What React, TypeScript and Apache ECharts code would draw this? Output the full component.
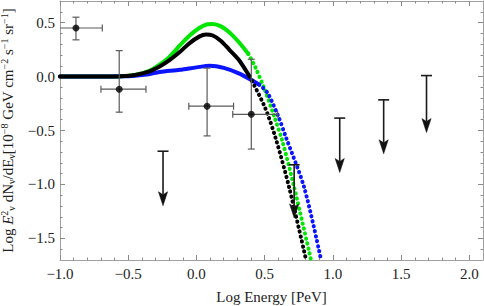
import React, { useEffect, useRef } from "react";
import * as echarts from "echarts";

// ---- Model curves (log energy, log flux) ----
const greenX = [-1.0, -0.7, -0.55, -0.45, -0.35, -0.27, -0.2, -0.12, -0.05, 0.02, 0.08, 0.12, 0.18, 0.24, 0.31, 0.38, 0.43, 0.5, 0.57, 0.63, 0.715, 0.84];
const greenY = [0, 0, 0.003, 0.015, 0.05, 0.11, 0.18, 0.29, 0.38, 0.45, 0.485, 0.488, 0.465, 0.41, 0.32, 0.21, 0.09, -0.12, -0.37, -0.6, -1.02, -1.7];
const blueX = [-1.0, -0.7, -0.55, -0.45, -0.35, -0.27, -0.12, 0.0, 0.1, 0.2, 0.31, 0.4, 0.46, 0.52, 0.6, 0.655, 0.79, 0.91];
const blueY = [0, 0, 0.002, 0.008, 0.022, 0.042, 0.062, 0.085, 0.1, 0.08, 0.03, -0.03, -0.075, -0.15, -0.37, -0.56, -1.03, -1.68];
const blackX = [-1.0, -0.7, -0.55, -0.45, -0.35, -0.27, -0.2, -0.12, -0.05, 0.02, 0.07, 0.12, 0.18, 0.24, 0.31, 0.39, 0.5, 0.58, 0.68, 0.8];
const blackY = [0, 0, 0.003, 0.015, 0.045, 0.093, 0.15, 0.23, 0.31, 0.37, 0.39, 0.38, 0.33, 0.25, 0.155, 0.0, -0.28, -0.57, -1.03, -1.68];

// ---- Measured points with error bars ----
const ptX = [-0.883, -0.566, 0.078, 0.402];
const ptY = [0.45, -0.117, -0.275, -0.35];
const ptXLo = [-1.01, -0.7, -0.056, 0.266];
const ptXHi = [-0.69, -0.37, 0.272, 0.595];
const ptYLo = [0.34, -0.33, -0.55, -0.672];
const ptYHi = [0.55, 0.24, 0.078, 0.16];

// ---- Upper limits ----
const ulX = [-0.245, 0.716, 1.05, 1.372, 1.686];
const ulTop = [-0.692, -0.818, -0.385, -0.216, 0.009];
const ulTip = [-1.197, -1.31, -0.889, -0.716, -0.519];

// ---- Axes ----
const xMin = -1.0;
const xMax = 2.1;
const yMin = -1.7;
const yMax = 0.7;
const xMajor = [-1.0, -0.5, 0.0, 0.5, 1.0, 1.5, 2.0];
const xMinor = [-0.9, -0.8, -0.7, -0.6, -0.4, -0.3, -0.2, -0.1, 0.1, 0.2, 0.3, 0.4, 0.6, 0.7, 0.8, 0.9, 1.1, 1.2, 1.3, 1.4, 1.6, 1.7, 1.8, 1.9];
const yMajor = [-1.5, -1.0, -0.5, 0.0, 0.5];
const yMinor = [-1.6, -1.4, -1.3, -1.2, -1.1, -0.9, -0.8, -0.7, -0.6, -0.4, -0.3, -0.2, -0.1, 0.1, 0.2, 0.3, 0.4, 0.6];

const xSplitGreen = 0.38;
const xSplitBlue = 0.46;
const xSplitBlack = 0.39;

const FONT = "Liberation Serif";
const FRAME = "#a0a0a0";
const TICK = "#8a8a8a";
const TEXT = "#222";

const fmt = (v: number) => (v < 0 ? "\u2212" : "") + Math.abs(v).toFixed(1);

function pairs(xs: number[], ys: number[], from: number, to: number) {
  const out: number[][] = [];
  for (let i = 0; i < xs.length; i++) {
    if (xs[i] >= from - 1e-9 && xs[i] <= to + 1e-9) out.push([xs[i], ys[i]]);
  }
  return out;
}

function curve(name: string, color: string, xs: number[], ys: number[], split: number, z: number) {
  const base = {
    type: "line" as const,
    xAxisIndex: 0,
    yAxisIndex: 0,
    showSymbol: false,
    smooth: 0.3,
    silent: true,
    clip: true,
    z,
  };
  return [
    {
      ...base,
      name: name + "-solid",
      data: pairs(xs, ys, -Infinity, split),
      lineStyle: { color, width: 4, cap: "round" as const, join: "round" as const },
    },
    {
      ...base,
      name: name + "-dots",
      data: pairs(xs, ys, split, Infinity),
      lineStyle: { color, width: 4, cap: "round" as const, type: [0.3, 4.8] },
    },
  ];
}

function xAxisDef(position: "top" | "bottom", major: boolean) {
  const isMain = position === "bottom" && major;
  return {
    type: "value",
    position,
    min: xMin,
    max: xMax,
    splitLine: { show: false },
    axisLine: { show: major, onZero: false, lineStyle: { color: FRAME, width: 1 } },
    axisTick: {
      show: true,
      inside: true,
      length: major ? 5 : 2.5,
      customValues: major ? xMajor : xMinor,
      lineStyle: { color: TICK, width: 1 },
    },
    axisLabel: isMain
      ? { show: true, customValues: xMajor, formatter: fmt, margin: 6, fontFamily: FONT, fontSize: 15, color: TEXT }
      : { show: false },
    name: isMain ? "Log Energy [PeV]" : "",
    nameLocation: "middle",
    nameGap: 29,
    nameTextStyle: { fontFamily: FONT, fontSize: 15, color: TEXT },
  };
}

const sup = { fontFamily: FONT, fontSize: 10, color: TEXT, verticalAlign: "top", lineHeight: 9 };
const sub = { fontFamily: FONT, fontSize: 10, color: TEXT, verticalAlign: "bottom", lineHeight: 9 };
const reg = { fontFamily: FONT, fontSize: 15, color: TEXT, lineHeight: 17 };
const ita = { ...reg, fontStyle: "italic" };

const yName =
  "{r|Log }{i|E}{sup|2}{sub|\u03bd}{r| dN}{sub|\u03bd}{r|/dE}{sub|\u03bd}{r|[10}{sup|\u22128}{r| GeV cm}{sup|\u22122}{r| s}{sup|\u22121}{r| sr}{sup|\u22121}{r|]}";

function yAxisDef(position: "left" | "right", major: boolean) {
  const isMain = position === "left" && major;
  return {
    type: "value",
    position,
    min: yMin,
    max: yMax,
    splitLine: { show: false },
    axisLine: { show: major, onZero: false, lineStyle: { color: FRAME, width: 1 } },
    axisTick: {
      show: true,
      inside: true,
      length: major ? 5 : 2.5,
      customValues: major ? yMajor : yMinor,
      lineStyle: { color: TICK, width: 1 },
    },
    axisLabel: isMain
      ? { show: true, customValues: yMajor, formatter: fmt, margin: 5, fontFamily: FONT, fontSize: 15, color: TEXT }
      : { show: false },
    name: isMain ? yName : "",
    nameLocation: "middle",
    nameRotate: 90,
    nameGap: 33,
    nameTextStyle: { rich: { r: reg, i: ita, sup, sub } },
  };
}

export default function App() {
  const ref = useRef<HTMLDivElement>(null);
  useEffect(() => {
    if (!ref.current) return;
    const chart = echarts.init(ref.current, undefined, { renderer: "svg" });

    const errData = ptX.map((x, i) => [x, ptY[i], ptXLo[i], ptXHi[i], ptYLo[i], ptYHi[i]]);
    const ulData = ulX.map((x, i) => [x, ulTop[i], ulTip[i]]);

    chart.setOption({
      animation: false,
      backgroundColor: "#fff",
      grid: { left: 60, right: 1, top: 1, bottom: 46, containLabel: false, outerBoundsMode: "none" },
      xAxis: [xAxisDef("bottom", true), xAxisDef("bottom", false), xAxisDef("top", true), xAxisDef("top", false)],
      yAxis: [yAxisDef("left", true), yAxisDef("left", false), yAxisDef("right", true), yAxisDef("right", false)],
      series: [
        ...curve("green", "#00e600", greenX, greenY, xSplitGreen, 2),
        ...curve("blue", "#0a14ff", blueX, blueY, xSplitBlue, 3),
        ...curve("black", "#000", blackX, blackY, xSplitBlack, 4),
        {
          type: "custom",
          name: "errors",
          xAxisIndex: 0,
          yAxisIndex: 0,
          clip: true,
          silent: true,
          z: 5,
          data: errData,
          encode: { x: [0, 2, 3], y: [1, 4, 5] },
          renderItem: (_p: any, api: any) => {
            const x = api.value(0);
            const y = api.value(1);
            const l = api.coord([api.value(2), y]);
            const r = api.coord([api.value(3), y]);
            const b = api.coord([x, api.value(4)]);
            const t = api.coord([x, api.value(5)]);
            const style = { stroke: "#5a5a5a", lineWidth: 1.2 };
            const c = 3.5;
            return {
              type: "group",
              children: [
                { type: "line", shape: { x1: l[0], y1: l[1], x2: r[0], y2: r[1] }, style },
                { type: "line", shape: { x1: l[0], y1: l[1] - c, x2: l[0], y2: l[1] + c }, style },
                { type: "line", shape: { x1: r[0], y1: r[1] - c, x2: r[0], y2: r[1] + c }, style },
                { type: "line", shape: { x1: b[0], y1: b[1], x2: t[0], y2: t[1] }, style },
                { type: "line", shape: { x1: b[0] - c, y1: b[1], x2: b[0] + c, y2: b[1] }, style },
                { type: "line", shape: { x1: t[0] - c, y1: t[1], x2: t[0] + c, y2: t[1] }, style },
              ],
            };
          },
        },
        {
          type: "scatter",
          name: "points",
          xAxisIndex: 0,
          yAxisIndex: 0,
          silent: true,
          z: 6,
          symbol: "circle",
          symbolSize: 7,
          itemStyle: { color: "#000" },
          data: ptX.map((x, i) => [x, ptY[i]]),
        },
        {
          type: "custom",
          name: "limits",
          xAxisIndex: 0,
          yAxisIndex: 0,
          clip: true,
          silent: true,
          z: 7,
          data: ulData,
          encode: { x: 0, y: [1, 2] },
          renderItem: (_p: any, api: any) => {
            const x = api.value(0);
            const t = api.coord([x, api.value(1)]);
            const p = api.coord([x, api.value(2)]);
            const style = { stroke: "#1a1a1a", lineWidth: 1.6 };
            const hl = 14;
            const hw = 4.6;
            return {
              type: "group",
              children: [
                { type: "line", shape: { x1: t[0], y1: t[1], x2: p[0], y2: p[1] - hl + 3 }, style },
                { type: "line", shape: { x1: t[0] - 5.5, y1: t[1], x2: t[0] + 5.5, y2: t[1] }, style },
                {
                  type: "polygon",
                  shape: {
                    points: [
                      [p[0] - hw, p[1] - hl],
                      [p[0], p[1] - hl + 3],
                      [p[0] + hw, p[1] - hl],
                      [p[0], p[1]],
                    ],
                  },
                  style: { fill: "#111", stroke: "#111", lineWidth: 0.5 },
                },
              ],
            };
          },
        },
      ],
    });
    return () => chart.dispose();
  }, []);
  return <div ref={ref} style={{ position: "absolute", left: 0, top: 0, width: 484, height: 306 }} />;
}
